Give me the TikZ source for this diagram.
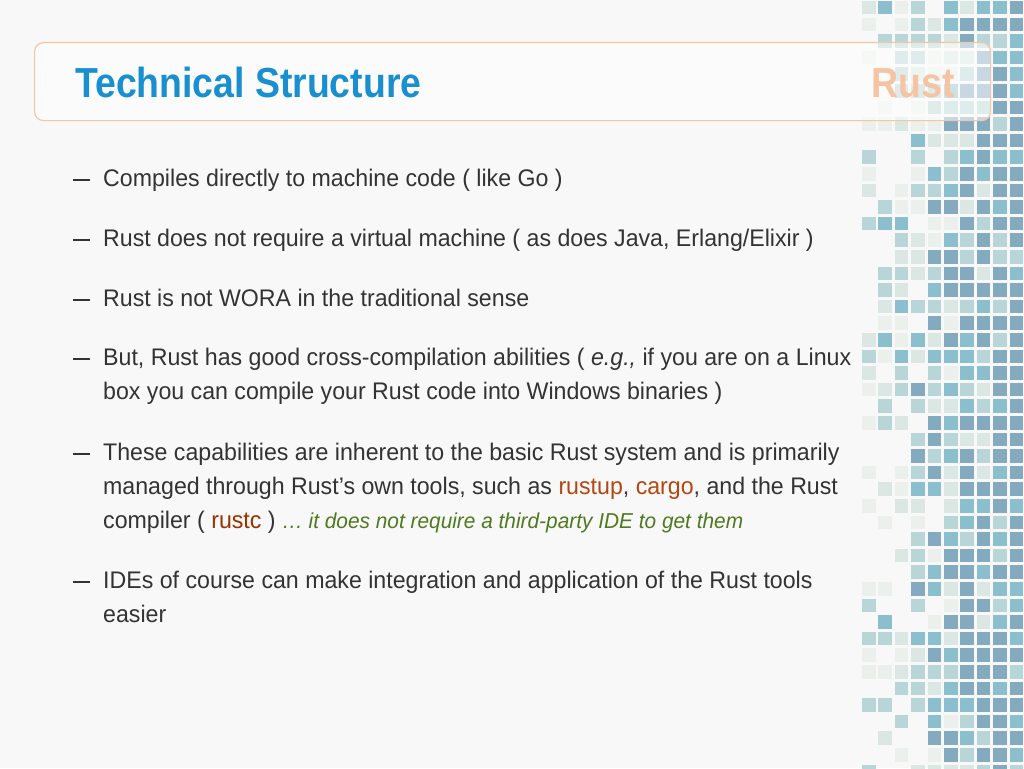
\documentclass[tikz,border=0pt]{standalone}
\usepackage{fontspec}
\setmainfont{Liberation Sans}[FakeStretch=0.965]
\newfontfamily\titlefont{Liberation Sans}[FakeStretch=0.89]
\definecolor{bg}{HTML}{F8F8F8}
\definecolor{tA}{HTML}{ECF0EC}
\definecolor{tB}{HTML}{DAE7E2}
\definecolor{tC}{HTML}{B8D5D7}
\definecolor{tD}{HTML}{8CBFCE}
\definecolor{tE}{HTML}{84AAC0}
\definecolor{titleblue}{HTML}{1A8FD0}
\definecolor{rustor}{HTML}{F6C3A3}
\definecolor{boxline}{HTML}{F3C6A6}
\definecolor{txt}{HTML}{333333}
\definecolor{tool}{HTML}{B4460F}
\definecolor{tool2}{HTML}{993300}
\definecolor{grn}{HTML}{4F7A1F}
\tikzset{
  body/.style={anchor=base west,text=txt,font=\fontsize{24}{34}\selectfont,inner sep=0pt},
  dashmark/.style={draw=txt,line width=1.4pt},
}
\begin{document}
\begin{tikzpicture}[x=1pt,y=-1pt]
\fill[bg] (0,0) rectangle (1024,768);
\useasboundingbox (0,0) rectangle (1024,768);
\pgfmathsetseed{11}
\foreach \r in {0,...,46}{
  \foreach \j in {0,...,9}{
    \pgfmathtruncatemacro\lev{max(0,min(5,int((rnd*0.7+\j*0.075-0.2)/0.13)))}
    \pgfmathsetmacro\xx{862+16.4*\j}
    \pgfmathsetmacro\yy{1+16.6*\r}
    \ifcase\lev\or
      \fill[tA] (\xx,\yy) rectangle ++(13.5,13.5);\or
      \fill[tB] (\xx,\yy) rectangle ++(13.5,13.5);\or
      \fill[tC] (\xx,\yy) rectangle ++(13.5,13.5);\or
      \fill[tD] (\xx,\yy) rectangle ++(13.5,13.5);\or
      \fill[tE] (\xx,\yy) rectangle ++(13.5,13.5);\fi
  }
}
\node[draw=boxline,line width=1.2pt,fill=white,fill opacity=0.55,rounded corners=9pt,minimum width=956pt,minimum height=78pt,anchor=north west] (box) at (34,42) {};
\node[anchor=base west,inner sep=0pt,text=titleblue,font=\titlefont\bfseries\fontsize{42}{42}\selectfont] (title) at (75,97) {Technical Structure};
\node[anchor=base east,inner sep=0pt,text=rustor,font=\titlefont\bfseries\fontsize{42}{42}\selectfont] (rust) at (955,97) {Rust};
\foreach \n/\y in {1/186,2/246,3/306,4/365,5/460,6/588}{
  \coordinate (d\n) at (73,\y-6);
  \draw[dashmark] (d\n) -- ++(17,0);
}
\node[body] (i1) at (103,186) {Compiles directly to machine code ( like Go )};
\node[body] (i2) at (103,246) {Rust does not require a virtual machine ( as does Java, Erlang/Elixir )};
\node[body] (i3) at (103,306) {Rust is not WORA in the traditional sense};
\node[body] (i4a) at (103,365) {But, Rust has good cross-compilation abilities ( \textit{e.g.,} if you are on a Linux};
\node[body] (i4b) at (103,399) {box you can compile your Rust code into Windows binaries )};
\node[body] (i5a) at (103,460) {These capabilities are inherent to the basic Rust system and is primarily};
\node[body] (i5b) at (103,494) {managed through Rust's own tools, such as \textcolor{tool}{rustup}, \textcolor{tool}{cargo}, and the Rust};
\node[body] (i5c) at (103,528) {compiler ( \textcolor{tool2}{rustc} ) \textcolor{grn}{\itshape\fontsize{21.6}{30}\selectfont … it does not require a third-party IDE to get them}};
\node[body] (i6a) at (103,588) {IDEs of course can make integration and application of the Rust tools};
\node[body] (i6b) at (103,622) {easier};
\end{tikzpicture}
\end{document}
